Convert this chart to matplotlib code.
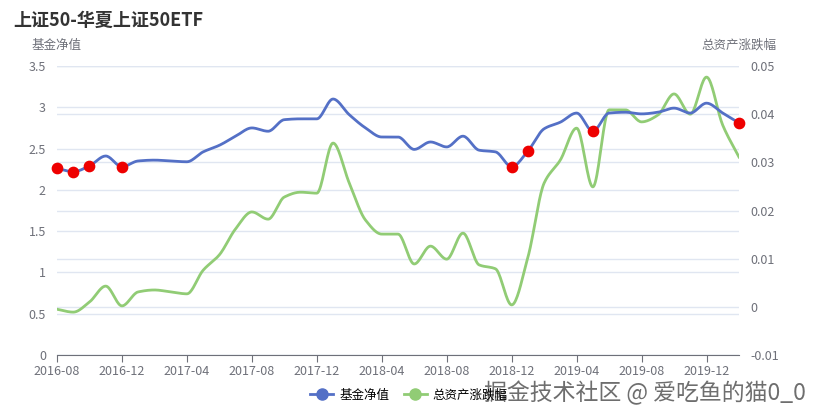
import matplotlib.pyplot as plt
from matplotlib.lines import Line2D
import numpy as np
import pandas as pd

plt.rcParams['font.family'] = ['Noto Sans CJK SC', 'DejaVu Sans']

# monthly categories 2016-08 .. 2020-02
months = list(pd.date_range('2016-08-01', '2020-02-01', freq='MS').strftime('%Y-%m'))

nav = [2.26, 2.22, 2.29, 2.41, 2.28, 2.35, 2.36, 2.35, 2.34, 2.46,
       2.54, 2.65, 2.75, 2.71, 2.85, 2.86, 2.86, 3.10, 2.91, 2.75,
       2.64, 2.64, 2.49, 2.58, 2.52, 2.65, 2.48, 2.46, 2.28, 2.47,
       2.74, 2.82, 2.93, 2.71, 2.93, 2.94, 2.92, 2.94, 2.99, 2.93,
       3.05, 2.93, 2.81]

asset_chg = [-0.0005, -0.0011, 0.0010, 0.0043, 0.0002, 0.0031, 0.0035, 0.0031, 0.0027, 0.0076,
             0.0108, 0.0162, 0.0197, 0.0182, 0.0228, 0.0238, 0.0236, 0.0340, 0.0257, 0.0180,
             0.0151, 0.0151, 0.0089, 0.0126, 0.0099, 0.0153, 0.0087, 0.0079, 0.0004, 0.0103,
             0.0257, 0.0305, 0.0371, 0.0249, 0.0409, 0.0409, 0.0384, 0.0398, 0.0442, 0.0400,
             0.0477, 0.0377, 0.0311]

# months highlighted with red dots on the NAV line
marked = [0, 1, 2, 4, 28, 29, 33, 42]

left_ticks = [0, 0.5, 1, 1.5, 2, 2.5, 3, 3.5]
right_ticks = [-0.01, 0, 0.01, 0.02, 0.03, 0.04, 0.05]


def smooth(y, n=20):
    # monotone cubic (pchip) just for drawing a smooth line through the points
    y = np.asarray(y, float)
    x = np.arange(len(y), dtype=float)
    d = np.diff(y)
    m = np.zeros_like(y)
    for i in range(1, len(y) - 1):
        if d[i - 1] * d[i] > 0:
            m[i] = 2 / (1 / d[i - 1] + 1 / d[i])
    m[0], m[-1] = d[0], d[-1]
    xs, ys = [], []
    for i in range(len(y) - 1):
        t = np.linspace(0, 1, n, endpoint=False)
        h00 = 2 * t**3 - 3 * t**2 + 1
        h10 = t**3 - 2 * t**2 + t
        h01 = -2 * t**3 + 3 * t**2
        h11 = t**3 - t**2
        xs.append(x[i] + t)
        ys.append(h00 * y[i] + h10 * m[i] + h01 * y[i + 1] + h11 * m[i + 1])
    xs.append([x[-1]])
    ys.append([y[-1]])
    return np.concatenate(xs), np.concatenate(ys)


fig = plt.figure(figsize=(8.18, 4.17), dpi=100)
ax = fig.add_axes([57 / 818, 1 - 355 / 417, 682 / 818, 289 / 417])
ax2 = ax.twinx()
# green series/grid underneath, blue line + dots on top
ax2.set_zorder(ax.get_zorder() - 1)
ax.patch.set_visible(False)

grid_c = '#E0E6F1'
for t in left_ticks:
    ax2.axhline(-0.01 + t / 3.5 * 0.06, color=grid_c, lw=1, zorder=0)
for t in right_ticks:
    ax2.axhline(t, color=grid_c, lw=1, zorder=0)
for a in (ax, ax2):
    for s in a.spines.values():
        s.set_visible(False)
    a.tick_params(axis='y', length=0, colors='#6E7079', labelsize=9, pad=8)

xs2, ys2 = smooth(asset_chg)
ax2.plot(xs2, ys2, color='#91CC75', lw=2, zorder=2)

xs, ys = smooth(nav)
ax.plot(xs, ys, color='#5470C6', lw=2, zorder=3)
ax.scatter(marked, [nav[i] for i in marked], s=55, color='#EE0000', zorder=5, clip_on=False)

ax.set_ylim(0, 3.5)
ax.set_yticks(left_ticks)
ax.set_yticklabels(['0', '0.5', '1', '1.5', '2', '2.5', '3', '3.5'])
ax2.set_ylim(-0.01, 0.05)
ax2.set_yticks(right_ticks)
ax2.set_yticklabels(['-0.01', '0', '0.01', '0.02', '0.03', '0.04', '0.05'])

ax.set_xlim(0, len(months) - 1)
xt = list(range(0, len(months), 4))
ax.set_xticks(xt)
ax.set_xticklabels([months[i] for i in xt])
ax.spines['bottom'].set_visible(True)
ax.spines['bottom'].set_color('#6E7079')
ax.tick_params(axis='x', length=5, color='#6E7079', labelcolor='#6E7079', labelsize=9, pad=2)

fig.text(13 / 818, 1 - 20 / 417, '上证50-华夏上证50ETF', fontsize=13, fontweight='bold',
         color='#333333', va='center', ha='left')
fig.text(57 / 818, 1 - 45 / 417, '基金净值', fontsize=9, color='#6E7079', ha='center', va='center')
fig.text(739 / 818, 1 - 45 / 417, '总资产涨跌幅', fontsize=9, color='#6E7079', ha='center', va='center')

handles = [Line2D([0], [0], color='#5470C6', lw=2, marker='o', markersize=8),
           Line2D([0], [0], color='#91CC75', lw=2, marker='o', markersize=8)]
fig.legend(handles, ['基金净值', '总资产涨跌幅'], loc='center', bbox_to_anchor=(0.5, 1 - 395 / 417),
           ncol=2, frameon=False, fontsize=9, handlelength=1.8, columnspacing=1.2, handletextpad=0.5)

# watermark
fig.text(806 / 818, 1 - 393 / 417, '掘金技术社区 @ 爱吃鱼的猫0_0', fontsize=16.5, color='#555555',
         ha='right', va='center', alpha=0.85)

fig.savefig('out.png', dpi=100)
